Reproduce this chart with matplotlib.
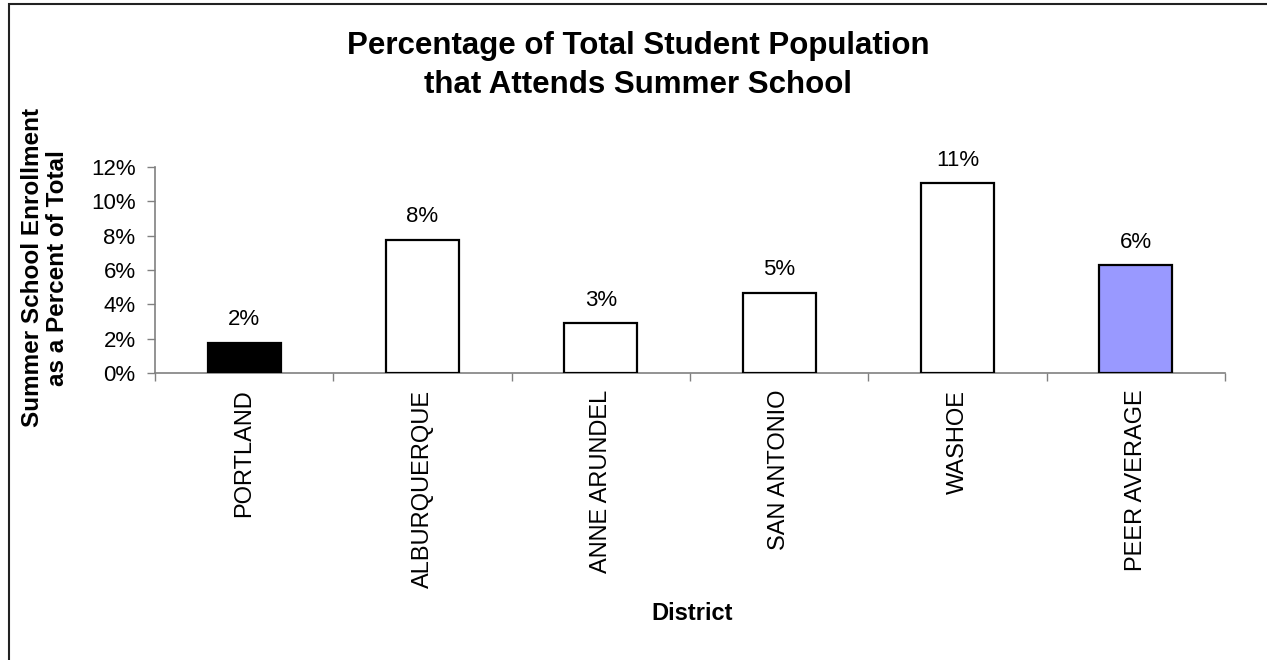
import matplotlib
matplotlib.use("Agg")
import matplotlib.pyplot as plt
from matplotlib.patches import Rectangle
from matplotlib.ticker import FuncFormatter

plt.rcParams['font.family'] = ['Liberation Sans', 'DejaVu Sans']

districts = ["PORTLAND", "ALBURQUERQUE", "ANNE ARUNDEL", "SAN ANTONIO", "WASHOE", "PEER AVERAGE"]
values = [1.75, 7.75, 2.9, 4.67, 11.04, 6.27]
value_labels = ["2%", "8%", "3%", "5%", "11%", "6%"]
bar_colors = ["#000000", "#FFFFFF", "#FFFFFF", "#FFFFFF", "#FFFFFF", "#9999FF"]
yticks = [0, 2, 4, 6, 8, 10, 12]

W, H = 1267, 660
fig = plt.figure(figsize=(W / 100, H / 100), dpi=100)
fig.patch.set_facecolor("white")

ax = fig.add_axes([155 / W, 1 - 373 / H, (1225 - 155) / W, (373 - 167) / H])
x = list(range(len(districts)))
ax.bar(x, values, width=0.41, color=bar_colors, edgecolor="black", linewidth=1.6, zorder=3)

for xi, v, lab in zip(x, values, value_labels):
    ax.annotate(lab, (xi, v), xytext=(0, 9), textcoords="offset points",
                ha="center", va="bottom", fontsize=16)

ax.set_xlim(-0.5, len(districts) - 0.5)
ax.set_ylim(0, 12)
ax.set_yticks(yticks)
ax.yaxis.set_major_formatter(FuncFormatter(lambda v, p: f"{v:.0f}%"))
ax.tick_params(axis="y", labelsize=16, length=6, width=1, color="#808080", direction="out", pad=8)

ax.set_xticks([i + 0.5 for i in range(-1, len(districts))])
ax.set_xticklabels([])
ax.tick_params(axis="x", which="major", length=6, width=1, color="#808080", direction="out")
ax.set_xticks(x, minor=True)
ax.set_xticklabels(districts, minor=True, rotation=90, fontsize=17, va="top")
ax.tick_params(axis="x", which="minor", length=0, pad=12)

for s in ["top", "right"]:
    ax.spines[s].set_visible(False)
for s in ["left", "bottom"]:
    ax.spines[s].set_color("#808080")
    ax.spines[s].set_linewidth(1.2)

fig.text(638 / W, 1 - 65.5 / H, "Percentage of Total Student Population\nthat Attends Summer School",
         ha="center", va="center", fontsize=22.5, fontweight="bold", linespacing=1.38)
fig.text(692 / W, 1 - 614 / H, "District", ha="center", va="center", fontsize=17, fontweight="bold")
fig.text(45 / W, 1 - 268 / H, "Summer School Enrollment\nas a Percent of Total", rotation=90,
         ha="center", va="center", fontsize=17.5, fontweight="bold", linespacing=1.1)

fig.patches.append(Rectangle((8.5 / W, -0.2), 2, 1.2 - 3.5 / H, transform=fig.transFigure,
                             fill=False, edgecolor="#222222", linewidth=1.5))

fig.savefig("out.png", dpi=100)
